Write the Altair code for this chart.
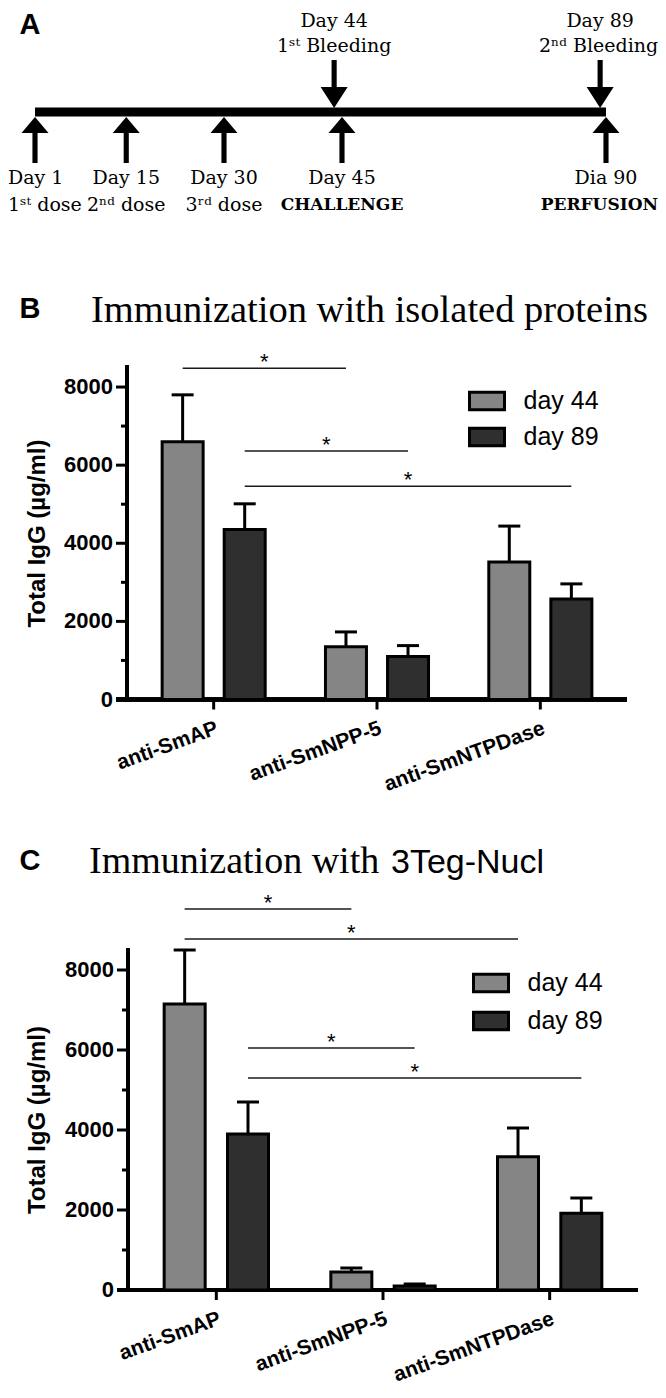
import json
import altair as alt
import pandas as pd

# ------------------------------------------------------------------ data
# Panel A: immunization schedule
dose_days = [1, 15, 30, 45, 90]
dose_label_1 = ["Day 1", "Day 15", "Day 30", "Day 45", "Dia 90"]
dose_label_2 = ["1ˢᵗ dose", "2ⁿᵈ dose", "3ʳᵈ dose", "CHALLENGE", "PERFUSION"]
dose_label_2_bold = [False, False, False, True, True]
bleed_days = [44, 89]
bleed_label_1 = ["Day 44", "Day 89"]
bleed_label_2 = ["1ˢᵗ Bleeding", "2ⁿᵈ Bleeding"]

panel_letters = ["A", "B", "C"]
title_b = "Immunization with isolated proteins"
title_c_1 = "Immunization with"
title_c_2 = "3Teg-Nucl"
y_title = "Total IgG (µg/ml)"

# Panels B and C: total IgG
categories = ["anti-SmAP", "anti-SmNPP-5", "anti-SmNTPDase"]
series = ["day 44", "day 89"]
series_colors = ["#858585", "#2f2f2f"]
y_ticks = [0, 2000, 4000, 6000, 8000]
y_minor_ticks = [1000, 3000, 5000, 7000]
y_max = 8500

b_day44_mean = [6600, 1350, 3520]
b_day44_sem = [1200, 380, 920]
b_day89_mean = [4350, 1100, 2570]
b_day89_sem = [660, 280, 390]

c_day44_mean = [7150, 450, 3330]
c_day44_sem = [1350, 100, 720]
c_day89_mean = [3900, 100, 1920]
c_day89_sem = [800, 50, 380]

b_sig_from_cat = ["anti-SmAP", "anti-SmAP", "anti-SmAP"]
b_sig_from_series = ["day 44", "day 89", "day 89"]
b_sig_to_cat = ["anti-SmNPP-5", "anti-SmNPP-5", "anti-SmNTPDase"]
b_sig_to_series = ["day 44", "day 89", "day 89"]
b_sig_level = [8480, 6360, 5460]

c_sig_from_cat = ["anti-SmAP", "anti-SmAP", "anti-SmAP", "anti-SmAP"]
c_sig_from_series = ["day 44", "day 44", "day 89", "day 89"]
c_sig_to_cat = ["anti-SmNPP-5", "anti-SmNTPDase", "anti-SmNPP-5", "anti-SmNTPDase"]
c_sig_to_series = ["day 44", "day 44", "day 89", "day 89"]
c_sig_level = [9525, 8775, 6050, 5300]

# ------------------------------------------------------------------ layout / style
VIEW_W, VIEW_H = 650, 1382
SANS = "Liberation Sans"
SERIF = "Liberation Serif"
TL_FONT = "DejaVu Serif"
SPREAD = 0.38

CATS_JS = json.dumps(categories)
SER_JS = json.dumps(series)


def pos_expr(cf, sf):
    return f"indexof({CATS_JS}, datum.{cf}) + (indexof({SER_JS}, datum.{sf}) - 0.5) * {SPREAD}"


# ------------------------------------------------------------------ panel A
TL_RANGE = [27, 216, 334, 598]
tl_scale = alt.Scale(
    domain=[dose_days[0], dose_days[2], dose_days[3], dose_days[4]],
    range=TL_RANGE, nice=False, zero=False,
)
dose_df = pd.DataFrame({"day": dose_days, "l1": dose_label_1, "l2": dose_label_2,
                        "bold": dose_label_2_bold})
bleed_df = pd.DataFrame({"day": bleed_days, "l1": bleed_label_1, "l2": bleed_label_2})
line_df = pd.DataFrame({"start": [dose_days[0]], "end": [dose_days[-1]]})

UP_PATH = "M0,-1.7L1,-0.52L0.19,-0.52L0.19,1.7L-0.19,1.7L-0.19,-0.52L-1,-0.52Z"
DOWN_PATH = "M0,1.78L1,0.22L0.19,0.22L0.19,-1.78L-0.19,-1.78L-0.19,0.22L-1,0.22Z"
TLX = alt.X("day:Q", scale=tl_scale, axis=None)
FIRST = f"datum.day == {dose_days[0]}"
LAST = f"datum.day == {dose_days[-1]}"
LAST_BLEED = f"datum.day == {bleed_days[-1]}"

tl_line = alt.Chart(line_df).mark_rule(color="black", strokeWidth=9, strokeCap="butt").encode(
    x=alt.X("start:Q", scale=tl_scale, axis=None), x2="end:Q", y=alt.value(104))
up_arrows = alt.Chart(dose_df).mark_point(shape=UP_PATH, size=729, filled=True, color="black",
                                          opacity=1, strokeWidth=0).encode(x=TLX, y=alt.value(132))
down_arrows = alt.Chart(bleed_df).mark_point(shape=DOWN_PATH, size=729, filled=True, color="black",
                                             opacity=1, strokeWidth=0).encode(x=TLX, y=alt.value(76))


def tl_text(df, field, y, filt=None, weight="normal", size=19, align="center", dx=0):
    ch = alt.Chart(df)
    if filt:
        ch = ch.transform_filter(filt)
    return ch.mark_text(font=TL_FONT, fontSize=size, fontWeight=weight, baseline="middle",
                        align=align, dx=dx, color="black").encode(x=TLX, y=alt.value(y), text=f"{field}:N")


LEFT_DX = -TL_RANGE[0]            # first column starts at the left edge
RIGHT_DX = VIEW_W - TL_RANGE[-1]  # last column ends at the right edge

timeline = alt.layer(
    tl_line, up_arrows, down_arrows,
    tl_text(dose_df, "l1", 170, f"!({FIRST})"),
    tl_text(dose_df, "l1", 170, FIRST, align="left", dx=LEFT_DX),
    tl_text(dose_df, "l2", 197, f"!datum.bold && !({FIRST})"),
    tl_text(dose_df, "l2", 197, FIRST, align="left", dx=LEFT_DX),
    tl_text(dose_df, "l2", 197, f"datum.bold && !({LAST})", weight="bold", size=17),
    tl_text(dose_df, "l2", 197, LAST, weight="bold", size=17, align="right", dx=RIGHT_DX),
    tl_text(bleed_df, "l1", 13),
    tl_text(bleed_df, "l2", 38, f"!({LAST_BLEED})"),
    tl_text(bleed_df, "l2", 38, LAST_BLEED, align="right", dx=RIGHT_DX + 6),
)


# ------------------------------------------------------------------ bar panels
def bar_panel(m44, s44, m89, s89, f_cat, f_ser, t_cat, t_ser, level,
              x_range, y_range, legend_x, legend_y, row_pad):
    rows = []
    for s, means, sems in ((series[0], m44, s44), (series[1], m89, s89)):
        for c, m, e in zip(categories, means, sems):
            rows.append({"category": c, "series": s, "mean": m, "sem": e})
    df = pd.DataFrame(rows)
    sig = pd.DataFrame({"c1": f_cat, "s1": f_ser, "c2": t_cat, "s2": t_ser, "level": level})
    major = pd.DataFrame({"v": y_ticks})
    minor = pd.DataFrame({"v": y_minor_ticks})
    cats = pd.DataFrame({"category": categories})

    xs = alt.Scale(domain=[-0.5, 2.5], range=x_range, nice=False, zero=False)
    ys = alt.Scale(domain=[0, y_max], range=y_range, nice=False, zero=False)
    x0, x1 = x_range
    y0, ytop = y_range

    legend = alt.Legend(
        orient="none", legendX=legend_x, legendY=legend_y, title=None,
        symbolType="M-1.75,-0.875H1.75V0.875H-1.75Z", symbolSize=400,
        symbolStrokeColor="black", symbolStrokeWidth=3, symbolOpacity=1,
        labelFont=SANS, labelFontSize=25, labelColor="black", labelOffset=24,
        rowPadding=row_pad, padding=0,
    )

    base = alt.Chart(df).transform_calculate(pos=pos_expr("category", "series"),
                                             top="datum.mean + datum.sem")
    bars = base.mark_bar(orient="vertical", size=41, stroke="black", strokeWidth=3).encode(
        x=alt.X("pos:Q", scale=xs, axis=None),
        y=alt.Y("mean:Q", scale=ys, axis=None),
        color=alt.Color("series:N", scale=alt.Scale(domain=series, range=series_colors), legend=legend),
    )
    err = base.mark_rule(color="black", strokeWidth=3).encode(
        x=alt.X("pos:Q", scale=xs, axis=None), y=alt.Y("mean:Q", scale=ys, axis=None), y2="top:Q")
    cap = base.mark_tick(orient="horizontal", size=22, thickness=3, color="black", opacity=1).encode(
        x=alt.X("pos:Q", scale=xs, axis=None), y=alt.Y("top:Q", scale=ys, axis=None))

    sbase = alt.Chart(sig).transform_calculate(
        x1=pos_expr("c1", "s1"), x2=pos_expr("c2", "s2"), xm="(datum.x1 + datum.x2) / 2")
    sig_line = sbase.mark_rule(color="#1a1a1a", strokeWidth=1.5).encode(
        x=alt.X("x1:Q", scale=xs, axis=None), x2="x2:Q", y=alt.Y("level:Q", scale=ys, axis=None))
    sig_star = sbase.mark_text(text="*", font=SANS, fontSize=22, baseline="alphabetic",
                               color="black", dy=1).encode(
        x=alt.X("xm:Q", scale=xs, axis=None), y=alt.Y("level:Q", scale=ys, axis=None))

    # axes drawn from the panel's own scales
    y_domain = alt.Chart(major).mark_rule(color="black", strokeWidth=4, strokeCap="square").encode(
        x=alt.value(x0), y=alt.Y(datum=0, scale=ys, axis=None), y2=alt.Y2(datum=y_max))
    x_domain = alt.Chart(major).mark_rule(color="black", strokeWidth=4).encode(
        x=alt.value(x0 - 11), x2=alt.value(x1), y=alt.Y(datum=0, scale=ys, axis=None))
    y_major = alt.Chart(major).mark_rule(color="black", strokeWidth=3).encode(
        y=alt.Y("v:Q", scale=ys, axis=None), x=alt.value(x0 - 11), x2=alt.value(x0))
    y_minor = alt.Chart(minor).mark_rule(color="black", strokeWidth=3).encode(
        y=alt.Y("v:Q", scale=ys, axis=None), x=alt.value(x0 - 6), x2=alt.value(x0))
    y_labels = alt.Chart(major).mark_text(font=SANS, fontWeight="bold", fontSize=22, align="right",
                                          baseline="middle", color="black").encode(
        y=alt.Y("v:Q", scale=ys, axis=None), x=alt.value(x0 - 14), text=alt.Text("v:Q", format="d"))
    cbase = alt.Chart(cats).transform_calculate(idx=f"indexof({CATS_JS}, datum.category)")
    x_ticks = cbase.mark_rule(color="black", strokeWidth=3).encode(
        x=alt.X("idx:Q", scale=xs, axis=None), y=alt.value(y0), y2=alt.value(y0 + 10))
    x_labels = cbase.mark_text(font=SANS, fontWeight="bold", fontSize=21, align="right",
                               baseline="top", angle=340, color="black").encode(
        x=alt.X("idx:Q", scale=xs, axis=None), y=alt.value(y0 + 18), text="category:N")
    y_lab = alt.Chart(pd.DataFrame({"t": [y_title]})).mark_text(
        font=SANS, fontWeight="bold", fontSize=24, angle=270, align="center", baseline="middle",
        color="black").encode(text="t:N", x=alt.value(30), y=alt.value((y0 + ytop) / 2))

    return alt.layer(y_domain, x_domain, y_major, y_minor, y_labels, x_ticks, x_labels, y_lab,
                     bars, err, cap, sig_line, sig_star)


panel_b = bar_panel(b_day44_mean, b_day44_sem, b_day89_mean, b_day89_sem,
                    b_sig_from_cat, b_sig_from_series, b_sig_to_cat, b_sig_to_series, b_sig_level,
                    x_range=[119, 619], y_range=[691.5, 359.5],
                    legend_x=466.5, legend_y=380.5, row_pad=5)
panel_c = bar_panel(c_day44_mean, c_day44_sem, c_day89_mean, c_day89_sem,
                    c_sig_from_cat, c_sig_from_series, c_sig_to_cat, c_sig_to_series, c_sig_level,
                    x_range=[120, 630], y_range=[1282, 942],
                    legend_x=470.5, legend_y=962.5, row_pad=7)


# ------------------------------------------------------------------ titles and panel letters
def text_item(txt, x, y, font, size, weight="normal", align="left", baseline="alphabetic"):
    return alt.Chart(pd.DataFrame({"t": [txt]})).mark_text(
        font=font, fontSize=size, fontWeight=weight, align=align, baseline=baseline, color="black"
    ).encode(text="t:N", x=alt.value(x), y=alt.value(y))


letter_y = [17, 301, 853]
letters = [text_item(l, 22, y, SANS, 29, "bold", "center", "middle")
           for l, y in zip(panel_letters, letter_y)]
titles = [
    text_item(title_b, 83, 314, SERIF, 38.5),
    text_item(title_c_1, 81, 865, SERIF, 38),
    text_item(title_c_2, 383, 865, SANS, 34),
]

chart = alt.layer(timeline, panel_b, panel_c, *letters, *titles).resolve_scale(
    x="independent", y="independent", color="independent"
).properties(
    width=VIEW_W, height=VIEW_H, autosize=alt.AutoSizeParams(type="none"), padding=0,
    background="white",
).configure_view(stroke=None)

chart.save("out.html", embed_options={"renderer": "svg", "actions": False})
